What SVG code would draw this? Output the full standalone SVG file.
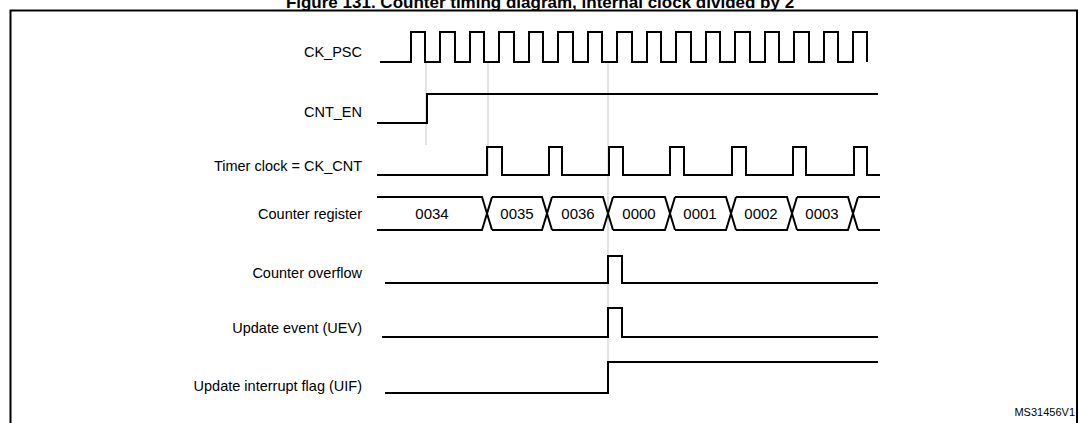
<svg xmlns="http://www.w3.org/2000/svg" width="1079" height="423" viewBox="0 0 1079 423">
<style>
.w{fill:none;stroke:#000;stroke-width:2}
.g{stroke:#c8c8c8;stroke-width:1}
.l{font-family:"Liberation Sans",Arial,sans-serif;font-size:14.5px;fill:#000;text-anchor:end}
.v{font-family:"Liberation Sans",Arial,sans-serif;font-size:15px;fill:#000;text-anchor:middle}
</style>
<rect width="1079" height="423" fill="#fff"/>
<text x="540" y="8" font-family="Liberation Sans,Arial,sans-serif" font-weight="bold" font-size="17" text-anchor="middle">Figure 131. Counter timing diagram, internal clock divided by 2</text>
<path d="M10.5 432 V10.5 H1077 V432" fill="none" stroke="#000" stroke-width="2"/>
<g id="connectors">
<line class="g" x1="426" y1="63" x2="426" y2="145"/>
<line class="g" x1="488" y1="63" x2="488" y2="176"/>
<line class="g" x1="608" y1="63" x2="608" y2="393"/>
</g>
<g id="ck_psc">
<text class="l" x="362" y="57">CK_PSC</text>
<path class="w" d="M380 62 H411 V32 H425 V62 H440 V32 H455 V62 H470 V32 H484 V62 H499 V32 H514 V62 H529 V32 H543 V62 H558 V32 H573 V62 H588 V32 H602 V62 H617 V32 H632 V62 H647 V32 H661 V62 H676 V32 H691 V62 H706 V32 H720 V62 H735 V32 H750 V62 H765 V32 H779 V62 H794 V32 H809 V62 H824 V32 H838 V62 H853 V32 H867 V62"/>
</g>
<g id="cnt_en">
<text class="l" x="362" y="117">CNT_EN</text>
<path class="w" d="M377 123 H427 V94 H878"/>
</g>
<g id="ck_cnt">
<text class="l" x="362" y="171">Timer clock = CK_CNT</text>
<path class="w" d="M377 175 H487 V147 H502 V175 H549 V147 H562 V175 H609 V147 H623 V175 H670 V147 H684 V175 H732 V147 H746 V175 H793 V147 H806 V175 H854 V147 H867 V175 H880"/>
</g>
<g id="counter_register">
<text class="l" x="362" y="219">Counter register</text>
<path class="w" d="M377 197 H482 L492 230 M377 230 H482 L492 197 M492 197 H542 L552 230 M492 230 H542 L552 197 M552 197 H603 L613 230 M552 230 H603 L613 197 M613 197 H665 L675 230 M613 230 H665 L675 197 M675 197 H726 L736 230 M675 230 H726 L736 197 M736 197 H787 L797 230 M736 230 H787 L797 197 M797 197 H848 L858 230 M797 230 H848 L858 197 M858 197 H880 M858 230 H880"/>
<text class="v" x="432" y="219">0034</text>
<text class="v" x="517" y="219">0035</text>
<text class="v" x="578" y="219">0036</text>
<text class="v" x="639" y="219">0000</text>
<text class="v" x="700" y="219">0001</text>
<text class="v" x="761" y="219">0002</text>
<text class="v" x="822" y="219">0003</text>
</g>
<g id="overflow">
<text class="l" x="362" y="278">Counter overflow</text>
<path class="w" d="M385 283 H608 V256 H622 V283 H878"/>
</g>
<g id="uev">
<text class="l" x="362" y="333">Update event (UEV)</text>
<path class="w" d="M382 337 H608 V308 H622 V337 H878"/>
</g>
<g id="uif">
<text class="l" x="362" y="391">Update interrupt flag (UIF)</text>
<path class="w" d="M385 393 H608 V362 H878"/>
</g>
<text x="1075" y="416" font-family="Liberation Sans,Arial,sans-serif" font-size="11" text-anchor="end">MS31456V1</text>
</svg>
